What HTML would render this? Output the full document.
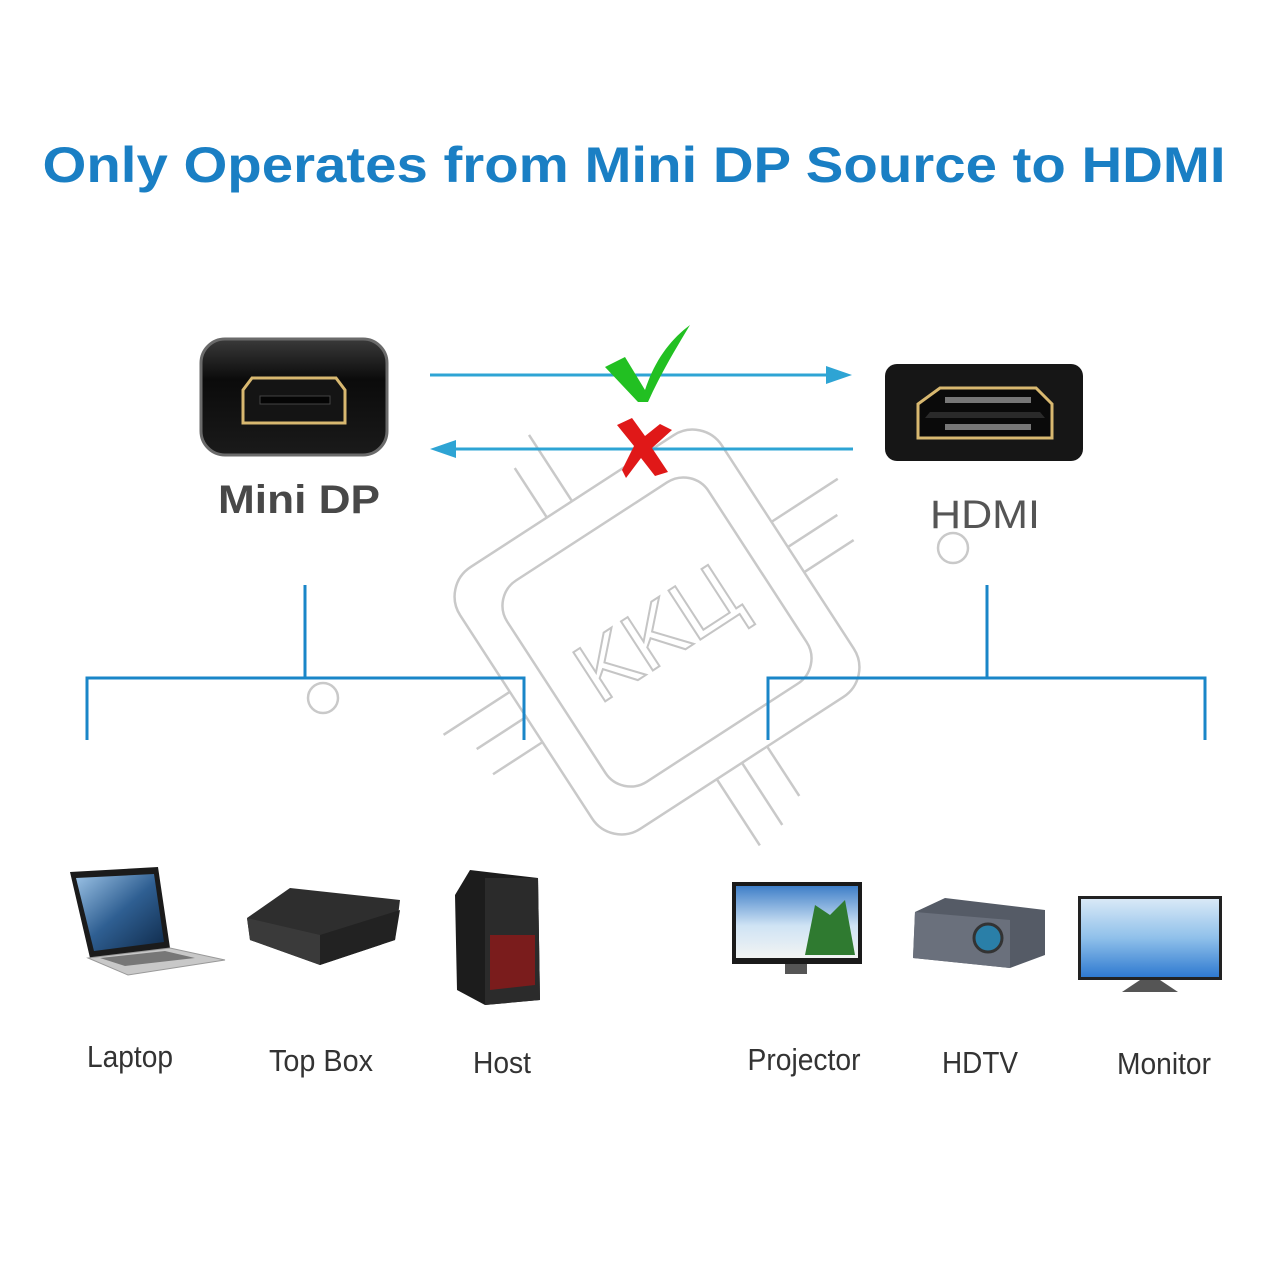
<!DOCTYPE html>
<html><head><meta charset="utf-8"><style>
html,body{margin:0;padding:0;background:#fff;}
svg{display:block;}
</style></head><body>
<svg width="1280" height="1280" viewBox="0 0 1280 1280" xmlns="http://www.w3.org/2000/svg" font-family="Liberation Sans, sans-serif">
<defs>
<linearGradient id="blk" x1="0" y1="0" x2="0" y2="1">
<stop offset="0" stop-color="#3a3a3a"/><stop offset="0.35" stop-color="#0b0b0b"/><stop offset="1" stop-color="#1a1a1a"/></linearGradient>
<linearGradient id="sky" x1="0" y1="0" x2="0" y2="1"><stop offset="0" stop-color="#3f7fc8"/><stop offset="0.55" stop-color="#cfe3f4"/><stop offset="1" stop-color="#f2f4f3"/></linearGradient>
<linearGradient id="mon" x1="0" y1="0" x2="0" y2="1"><stop offset="0" stop-color="#d9e9f7"/><stop offset="0.5" stop-color="#8fc0ea"/><stop offset="1" stop-color="#2f7ad0"/></linearGradient>
<linearGradient id="lap" x1="0" y1="0" x2="1" y2="1"><stop offset="0" stop-color="#9cc3e6"/><stop offset="0.5" stop-color="#2f5f92"/><stop offset="1" stop-color="#0f2a4a"/></linearGradient>
</defs>

<text x="634" y="182" text-anchor="middle" font-size="50" font-weight="bold" fill="#1a7fc4" textLength="1183" lengthAdjust="spacingAndGlyphs">Only Operates from Mini DP Source to HDMI</text>

<!-- watermark -->
<g fill="none" stroke="#c9c9c9" stroke-width="2.5" transform="translate(657 632) rotate(-33)">
<rect x="-156" y="-156" width="312" height="312" rx="35"/>
<rect x="-120" y="-120" width="240" height="240" rx="30"/>
<line x1="-156" y1="-30" x2="-235" y2="-30"/><line x1="-156" y1="0" x2="-215" y2="0"/><line x1="-156" y1="30" x2="-215" y2="30"/>
<line x1="156" y1="-30" x2="235" y2="-30"/><line x1="156" y1="0" x2="215" y2="0"/><line x1="156" y1="30" x2="215" y2="30"/>
<line x1="-30" y1="156" x2="-30" y2="235"/><line x1="0" y1="156" x2="0" y2="230"/><line x1="30" y1="156" x2="30" y2="215"/>
<line x1="-30" y1="-156" x2="-30" y2="-215"/><line x1="0" y1="-156" x2="0" y2="-235"/>
<text x="0" y="30" text-anchor="middle" font-size="85" stroke="#c5c5c5" stroke-width="2">KKЦ</text>
</g>
<circle cx="323" cy="698" r="15" fill="none" stroke="#c9c9c9" stroke-width="2.5"/>
<circle cx="953" cy="548" r="15" fill="none" stroke="#c9c9c9" stroke-width="2.5"/>

<!-- Mini DP connector -->
<rect x="201" y="339" width="186" height="116" rx="24" fill="url(#blk)" stroke="#6a6a6a" stroke-width="3"/>
<path d="M252 378 L336 378 L345 390 L345 423 L243 423 L243 390 Z" fill="#141414" stroke="#d8b870" stroke-width="3"/>
<rect x="260" y="396" width="70" height="8" fill="#050505" stroke="#444" stroke-width="1"/>
<text x="299" y="513" text-anchor="middle" font-size="40" font-weight="bold" fill="#484848" textLength="162" lengthAdjust="spacingAndGlyphs">Mini DP</text>

<!-- HDMI connector -->
<rect x="885" y="364" width="198" height="97" rx="12" fill="#161616"/>
<path d="M940 388 L1036 388 L1052 404 L1052 438 L918 438 L918 404 Z" fill="#0a0a0a" stroke="#d8b870" stroke-width="3"/>
<g fill="#777"><rect x="945" y="397" width="86" height="6"/><rect x="945" y="424" width="86" height="6"/></g>
<path d="M930 412 L1040 412 L1045 418 L925 418 Z" fill="#2a2a2a"/>
<text x="985" y="528" text-anchor="middle" font-size="40" fill="#555" textLength="110" lengthAdjust="spacingAndGlyphs">HDMI</text>

<!-- arrows -->
<line x1="430" y1="375" x2="830" y2="375" stroke="#2ea4d4" stroke-width="3"/>
<polygon points="852,375 826,366 826,384" fill="#2ea4d4"/>
<line x1="452" y1="449" x2="853" y2="449" stroke="#2ea4d4" stroke-width="3"/>
<polygon points="430,449 456,440 456,458" fill="#2ea4d4"/>
<path d="M605 367 L625 357 L645 390 C655 360 670 340 690 325 C675 350 660 375 648 402 L638 402 Z" fill="#22c022"/>
<path d="M617 425 L632 418 L645 436 L660 424 L672 430 L652 448 L668 472 L655 476 L641 458 L626 478 L622 470 L634 446 Z" fill="#e01818"/>

<!-- trees -->
<g stroke="#1a86c8" stroke-width="3" fill="none">
<path d="M305 585 V678"/><path d="M87 740 V678 H524 V740"/>
<path d="M987 585 V678"/><path d="M768 740 V678 H1205 V740"/>
</g>

<!-- Laptop -->
<polygon points="70,872 158,867 170,948 90,958" fill="#1b1b1b"/>
<polygon points="76,878 154,874 164,942 94,951" fill="url(#lap)"/>
<polygon points="88,958 170,948 225,960 128,975" fill="#c8c8c8" stroke="#999"/>
<polygon points="100,958 165,951 195,958 125,966" fill="#777"/>
<!-- Top box -->
<polygon points="247,918 290,888 400,900 395,940 320,965 250,940" fill="#2e2e2e"/>
<polygon points="247,918 320,935 320,965 250,940" fill="#3a3a3a"/>
<polygon points="320,935 400,910 395,940 320,965" fill="#222"/>
<!-- Host -->
<polygon points="455,895 470,870 538,878 540,1000 485,1005 457,990" fill="#1c1c1c"/>
<polygon points="485,878 538,878 540,1000 485,1005" fill="#2b2b2b"/>
<path d="M490 935 L535 935 L535 985 L490 990 Z" fill="#7a1c1c"/>
<!-- Projector TV -->
<rect x="732" y="882" width="130" height="82" fill="#1a1a1a"/>
<rect x="736" y="886" width="122" height="72" fill="url(#sky)"/>
<path d="M805 955 L815 905 L830 915 L845 900 L855 955 Z" fill="#2f7a30"/>
<rect x="785" y="964" width="22" height="10" fill="#555"/>
<!-- Projector -->
<polygon points="915,912 945,898 1045,910 1045,955 1010,968 913,958" fill="#555b66"/>
<polygon points="915,912 1010,920 1010,968 913,958" fill="#6a707c"/>
<circle cx="988" cy="938" r="14" fill="#2a7fa8" stroke="#333" stroke-width="3"/>
<!-- Monitor -->
<rect x="1078" y="896" width="144" height="84" fill="#222"/>
<rect x="1081" y="899" width="138" height="78" fill="url(#mon)"/>
<path d="M1140 980 L1160 980 L1178 992 L1122 992 Z" fill="#555"/>

<!-- labels -->
<g font-size="31" fill="#333">
<text x="130" y="1067" text-anchor="middle" textLength="86" lengthAdjust="spacingAndGlyphs">Laptop</text>
<text x="321" y="1071" text-anchor="middle" textLength="104" lengthAdjust="spacingAndGlyphs">Top Box</text>
<text x="502" y="1073" text-anchor="middle" textLength="58" lengthAdjust="spacingAndGlyphs">Host</text>
<text x="804" y="1070" text-anchor="middle" textLength="113" lengthAdjust="spacingAndGlyphs">Projector</text>
<text x="980" y="1073" text-anchor="middle" textLength="76" lengthAdjust="spacingAndGlyphs">HDTV</text>
<text x="1164" y="1074" text-anchor="middle" textLength="94" lengthAdjust="spacingAndGlyphs">Monitor</text>
</g>
</svg>
</body></html>
